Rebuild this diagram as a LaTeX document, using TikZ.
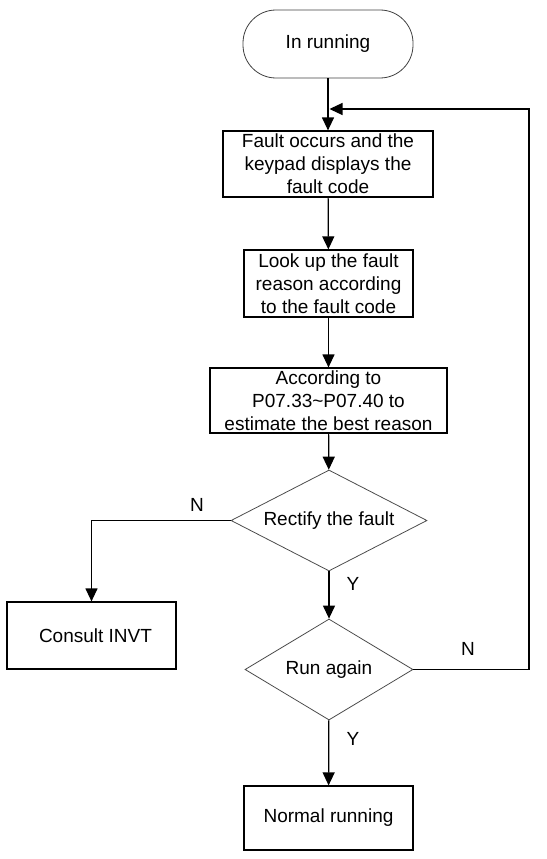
\documentclass[tikz,border=0pt]{standalone}
\usepackage{fontspec}
\setmainfont{Liberation Sans}
\usetikzlibrary{arrows.meta,shapes.geometric}

\begin{document}
\begin{tikzpicture}[x=1pt,y=1pt,
  font=\fontsize{19}{23}\selectfont,
  box/.style={draw,line width=1.2pt,inner sep=0pt,align=center},
  decision/.style={draw=black!70,line width=0.8pt,diamond,aspect=1.94,inner sep=0pt},
  flow/.style={line width=1.2pt,-{Triangle[length=13pt,width=12pt]}}]

\useasboundingbox (0,0) rectangle (546,-859);


% Part A: Boxes


% Start
\node[draw=black!75,line width=0.8pt,rounded corners=33pt,minimum width=170pt,minimum height=68pt] (start) at (328,-44) {In running};

% Steps
\node[box,minimum width=210pt,minimum height=66pt] (fault) at (328,-164) {Fault occurs and the\\keypad displays the\\fault code};
\node[box,minimum width=169pt,minimum height=67pt] (lookup) at (328.5,-283.5) {Look up the fault\\reason according\\to the fault code};
\node[box,minimum width=237pt,minimum height=65pt] (estimate) at (328.5,-400.5) {According to\\P07.33\textasciitilde P07.40 to\\estimate the best reason};

% Decisions
\node[decision,minimum width=196pt,minimum height=101pt] (rectify) at (329,-520.5) {Rectify the fault};
\node[decision,minimum width=168pt,minimum height=101pt] (again) at (329,-669.5) {Run again};

% Ends
\node[box,minimum width=169pt,minimum height=67pt] (consult) at (91.5,-635.5) {\hspace{8pt}Consult INVT};
\node[box,minimum width=169pt,minimum height=64pt] (normal) at (328.5,-818) {Normal running};


% Part B: Connectors


\coordinate (loopin) at (329.5,-109);
\coordinate (loopturn) at (529,-109);

\draw[flow] (start) -- (fault);
\draw[flow] (fault) -- (lookup);
\draw[flow] (lookup) -- (estimate);
\draw[flow] (estimate) -- (rectify);
\draw[flow] (rectify) -- (again);
\draw[flow] (rectify.west) -| (consult.north);
\draw[flow] (again) -- (normal);

% Back to the top
\draw[flow] (again.east) -| (loopturn) -- (loopin);


% Part C: Labels


\node (n1) at (197,-505) {N};
\node (y1) at (353,-584) {Y};
\node (n2) at (468,-649) {N};
\node (y2) at (353,-739) {Y};

\end{tikzpicture}
\end{document}
